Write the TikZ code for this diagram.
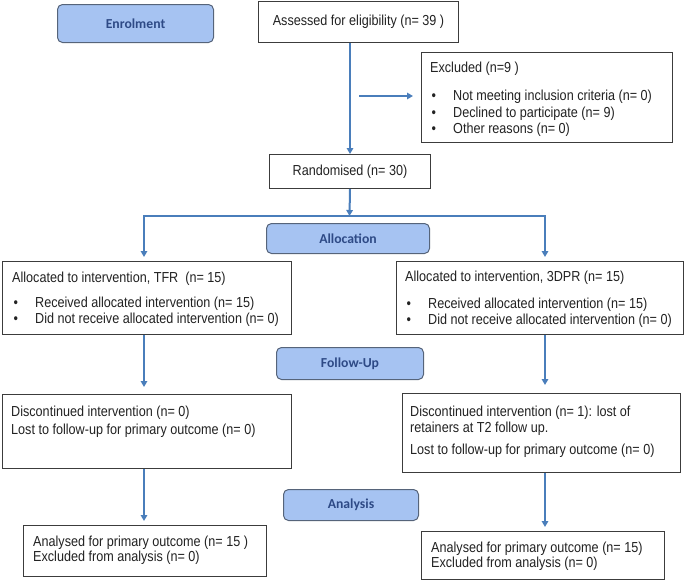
\documentclass[tikz,border=0pt]{standalone}
\usepackage{fontspec}
\setmainfont{Liberation Sans}[FakeStretch=0.87]
\newfontfamily\labelfont{Carlito}
\usetikzlibrary{arrows.meta,calc}

\definecolor{flowblue}{RGB}{74,126,187}
\definecolor{boxline}{HTML}{3C3C3C}
\definecolor{bodytext}{HTML}{222222}
\definecolor{labelfill}{HTML}{A6C3F2}
\definecolor{labeldraw}{HTML}{56647A}
\definecolor{labeltext}{HTML}{2E4A86}

% body text size and bullet with its tab stop
\newcommand\bodysize{\fontsize{14.5}{16.5}\selectfont}
\newcommand\bul{\makebox[23pt][l]{\hspace{1.5pt}\textbullet}}
\newcommand\block[3]{\parbox[t]{#1}{\setlength{\baselineskip}{#2}#3}}

\begin{document}
\begin{tikzpicture}[x=1pt,y=-1pt,
  box/.style={draw=boxline, line width=1pt, fill=white, rectangle,
    inner sep=0pt, anchor=north west, text=bodytext, font=\bodysize},
  txt/.style={anchor=base west, inner sep=0pt, text=bodytext, font=\bodysize},
  stage/.style={draw=labeldraw, fill=labelfill, rounded corners=5pt,
    line width=1pt, inner sep=0pt, anchor=north west, text=labeltext,
    font=\labelfont\bfseries\fontsize{13.7}{16}\selectfont},
  flow/.style={draw=flowblue, line width=2pt, -{Triangle[width=6.5pt,length=6pt]}}]

\useasboundingbox (0,0) rectangle (685,581);

% stage labels
\node[stage, minimum width=156pt, minimum height=38pt] (enrol) at (57,4) {Enrolment};
\node[stage, minimum width=163pt, minimum height=30pt] (alloc) at (266,223) {Allocation};
\node[stage, minimum width=147pt, minimum height=32pt] (follow) at (276,347) {Follow-Up};
\node[stage, minimum width=135pt, minimum height=31pt] (analysis) at (283,489) {Analysis};

% enrolment
\node[box, minimum width=200pt, minimum height=41pt] (asse) at (258,1)
  {Assessed for eligibility (n= 39 )};
\node[box, minimum width=251pt, minimum height=90pt] (excl) at (421,52) {};
\node[txt] (excl-t) at (430,72.5) {\block{240pt}{16.5pt}{Excluded (n=9 )\par\vspace{11.5pt}
  \bul Not meeting inclusion criteria (n= 0)\par
  \bul Declined to participate (n= 9)\par
  \bul Other reasons (n= 0)}};
\node[box, minimum width=161pt, minimum height=34pt] (rand) at (269,154)
  {Randomised (n= 30)};

% allocation
\node[box, minimum width=289pt, minimum height=73pt] (lalloc) at (2,261) {};
\node[txt] (lalloc-t) at (12,282.5) {\block{275pt}{16pt}{Allocated to intervention, TFR \ (n= 15)\par\vspace{9pt}
  \bul Received allocated intervention (n= 15)\par
  \bul Did not receive allocated intervention (n= 0)}};
\node[box, minimum width=287pt, minimum height=73pt] (ralloc) at (396,261) {};
\node[txt] (ralloc-t) at (405,281.5) {\block{275pt}{16pt}{Allocated to intervention, 3DPR (n= 15)\par\vspace{11pt}
  \bul Received allocated intervention (n= 15)\par
  \bul Did not receive allocated intervention (n= 0)}};

% follow-up
\node[box, minimum width=289pt, minimum height=74pt] (lfol) at (2,394) {};
\node[txt] (lfol-t) at (11,416.5) {\block{275pt}{16.5pt}{Discontinued intervention (n= 0)\par\vspace{1.5pt}
  Lost to follow-up for primary outcome (n= 0)}};
\node[box, minimum width=278pt, minimum height=79pt] (rfol) at (402,393) {};
\node[txt] (rfol-t) at (410,416.5) {\block{265pt}{16pt}{Discontinued intervention (n= 1): lost of\par
  retainers at T2 follow up.\par\vspace{6pt}
  Lost to follow-up for primary outcome (n= 0)}};

% analysis
\node[box, minimum width=243pt, minimum height=51pt] (lana) at (23,525) {};
\node[txt] (lana-t) at (33,546.5) {\block{230pt}{15pt}{Analysed for primary outcome (n= 15 )\par
  Excluded from analysis (n= 0)}};
\node[box, minimum width=243pt, minimum height=48pt] (rana) at (421,531) {};
\node[txt] (rana-t) at (431,552.5) {\block{230pt}{14.5pt}{Analysed for primary outcome (n= 15)\par
  Excluded from analysis (n= 0)}};

% column guides and branching points
\coordinate (lcol) at (144,0);
\coordinate (rcol) at (545,0);
\coordinate (split) at (349.5,216);
\coordinate (exfrom) at (359,96);

% connectors
\draw[flow] (asse.south -| rand.north) -- (rand.north);
\draw[flow, shorten >=8pt] (exfrom) -- (exfrom -| excl.west);
\draw[flow] (rand.south) -- (split);
\draw[flow, shorten >=4pt] (split) -| (lalloc.north -| lcol);
\draw[flow, shorten >=4pt] (split) -| (ralloc.north -| rcol);
\draw[flow, shorten >=7pt] (lalloc.south -| lcol) -- (lfol.north -| lcol);
\draw[flow, shorten >=8pt] (ralloc.south -| rcol) -- (rfol.north -| rcol);
\draw[flow, shorten >=4pt] (lfol.south -| lcol) -- (lana.north -| lcol);
\draw[flow, shorten >=4pt] (rfol.south -| rcol) -- (rana.north -| rcol);
\end{tikzpicture}
\end{document}
